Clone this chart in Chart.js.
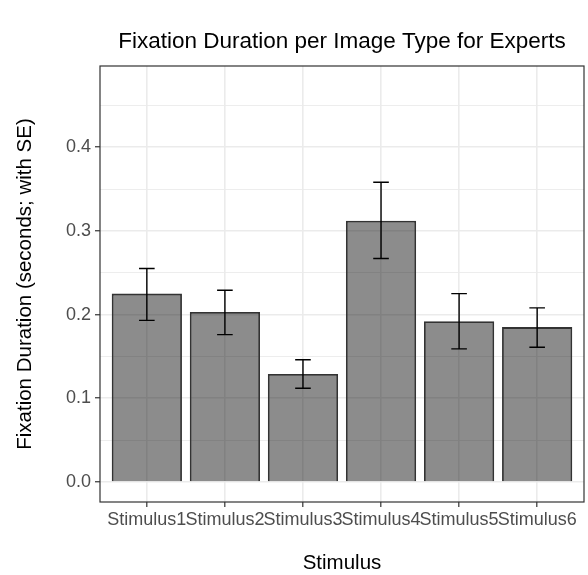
<!DOCTYPE html>
<html>
<head>
<meta charset="utf-8">
<script src="https://cdn.jsdelivr.net/npm/chart.js@4/dist/chart.umd.min.js"></script>
<style>
  html, body { margin: 0; padding: 0; background: #fff; }
  #wrap { width: 588px; height: 575px; position: relative; }
</style>
</head>
<body>
<div id="wrap"><canvas id="chart"></canvas></div>
<script>
const categories = ['Stimulus1', 'Stimulus2', 'Stimulus3', 'Stimulus4', 'Stimulus5', 'Stimulus6']
const meanDuration = [0.225, 0.203, 0.129, 0.312, 0.192, 0.185]
const seLow = [0.193, 0.176, 0.112, 0.267, 0.159, 0.161]
const seHigh = [0.255, 0.229, 0.146, 0.358, 0.225, 0.208]
const yTicks = [0, 0.1, 0.2, 0.3, 0.4]
const yMinorTicks = [0.05, 0.15, 0.25, 0.35, 0.45]

const FONT = '"Liberation Sans", Arial, Helvetica, sans-serif'
const isMajor = (v) => yTicks.some(t => Math.abs(t - v) < 1e-9)

// error bars, drawn with the chart's own scales
const errorBars = {
  id: 'errorBars',
  afterDatasetsDraw(chart) {
    const {ctx, scales: {x, y}} = chart
    ctx.save()
    ctx.strokeStyle = '#000'
    ctx.lineWidth = 1.4
    categories.forEach((c, i) => {
      const xc = x.getPixelForValue(i + 1)
      const xl = x.getPixelForValue(i + 0.9)
      const xr = x.getPixelForValue(i + 1.1)
      const yt = y.getPixelForValue(seHigh[i])
      const yb = y.getPixelForValue(seLow[i])
      ctx.beginPath()
      ctx.moveTo(xc, yt); ctx.lineTo(xc, yb)
      ctx.moveTo(xl, yt); ctx.lineTo(xr, yt)
      ctx.moveTo(xl, yb); ctx.lineTo(xr, yb)
      ctx.stroke()
    })
    ctx.restore()
  }
}

// panel border like theme_bw
const panelBorder = {
  id: 'panelBorder',
  afterDraw(chart) {
    const {ctx, chartArea: a} = chart
    ctx.save()
    ctx.strokeStyle = '#333333'
    ctx.lineWidth = 1.2
    ctx.strokeRect(a.left, a.top, a.right - a.left, a.bottom - a.top)
    ctx.restore()
  }
}

new Chart(document.getElementById('chart'), {
  type: 'bar',
  data: {
    datasets: [{
      data: meanDuration.map((v, i) => ({x: i + 1, y: v})),
      backgroundColor: 'rgba(0, 0, 0, 0.45)',
      borderColor: '#333333',
      borderWidth: 1.8,
      barPercentage: 0.9,
      categoryPercentage: 1.0
    }]
  },
  options: {
    responsive: true,
    maintainAspectRatio: false,
    animation: false,
    layout: { padding: { top: 0, right: 4, bottom: 0, left: 0 } },
    plugins: {
      legend: { display: false },
      tooltip: { enabled: false },
      title: {
        display: true,
        text: 'Fixation Duration per Image Type for Experts',
        fullSize: false,
        color: '#000',
        font: { family: FONT, size: 22.5, weight: 'normal', lineHeight: 1.2 },
        padding: { top: 28, bottom: 11 }
      }
    },
    scales: {
      x: {
        type: 'linear',
        min: 0.4,
        max: 6.6,
        offset: false,
        afterFit: (scale) => { scale.height = 73 },
        afterBuildTicks: (scale) => {
          scale.ticks = categories.map((c, i) => ({value: i + 1}))
        },
        border: { display: false },
        grid: {
          offset: false,
          color: '#ebebeb',
          lineWidth: 1.6,
          drawTicks: true,
          tickLength: 5,
          tickColor: '#333333',
          tickWidth: 1.2
        },
        ticks: {
          autoSkip: false,
          maxRotation: 0,
          minRotation: 0,
          padding: 2,
          color: '#4d4d4d',
          font: { family: FONT, size: 18 },
          callback: (v) => categories[Math.round(v) - 1]
        },
        title: {
          display: true,
          text: 'Stimulus',
          color: '#000',
          font: { family: FONT, size: 20.5, lineHeight: 1 },
          padding: { top: 0, bottom: 1 }
        }
      },
      y: {
        min: -0.024,
        max: 0.497,
        afterFit: (scale) => { scale.width = 100 },
        afterBuildTicks: (scale) => {
          scale.ticks = yTicks.concat(yMinorTicks).sort((a, b) => a - b).map(v => ({value: v}))
        },
        border: { display: false },
        grid: {
          color: '#ebebeb',
          lineWidth: (ctx) => isMajor(ctx.tick.value) ? 1.5 : 0.9,
          drawTicks: true,
          tickLength: 5,
          tickColor: (ctx) => isMajor(ctx.tick.value) ? '#333333' : 'rgba(0,0,0,0)',
          tickWidth: 1.2
        },
        ticks: {
          autoSkip: false,
          padding: 4,
          color: '#4d4d4d',
          font: { family: FONT, size: 18 },
          callback: (v) => isMajor(v) ? v.toFixed(1) : ''
        },
        title: {
          display: true,
          text: 'Fixation Duration (seconds; with SE)',
          color: '#000',
          font: { family: FONT, size: 20.5, lineHeight: 1 },
          padding: { top: 15, bottom: 0 }
        }
      }
    }
  },
  plugins: [errorBars, panelBorder]
})
</script>
</body>
</html>
